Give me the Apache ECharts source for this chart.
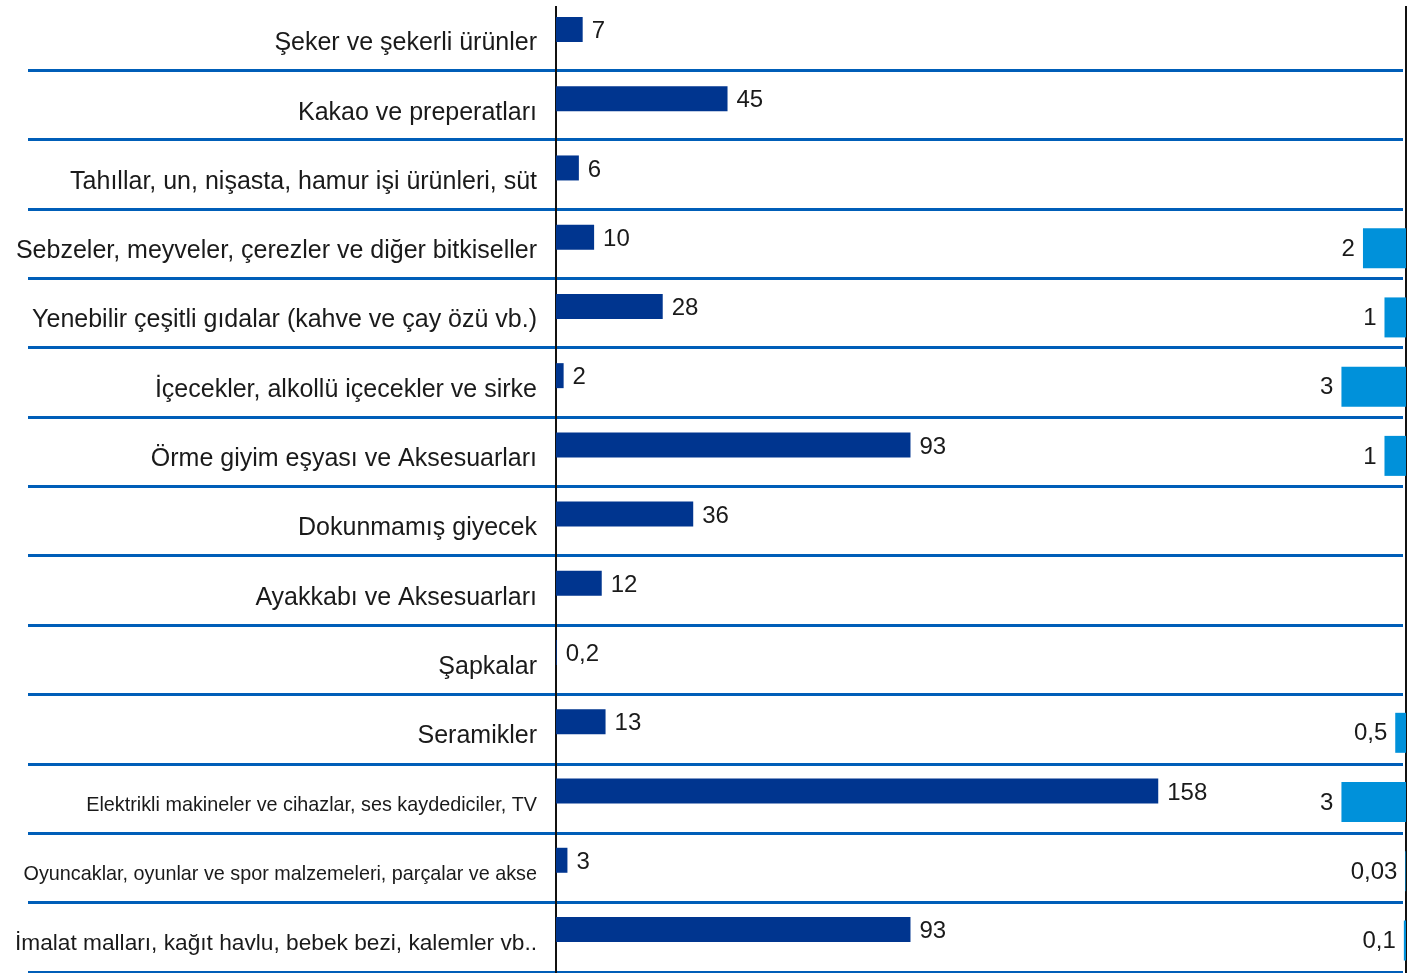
<!DOCTYPE html>
<html>
<head>
<meta charset="utf-8">
<script src="https://cdn.jsdelivr.net/npm/echarts@6/dist/echarts.min.js"></script>
<style>
html,body{margin:0;padding:0;background:#ffffff;}
#chart{width:1416px;height:973px;}
</style>
</head>
<body>
<div id="chart"></div>
<script>
// ---- data ----
const categories = [
  'Şeker ve şekerli ürünler',
  'Kakao ve preperatları',
  'Tahıllar, un, nişasta, hamur işi ürünleri, süt',
  'Sebzeler, meyveler, çerezler ve diğer bitkiseller',
  'Yenebilir çeşitli gıdalar (kahve ve çay özü vb.)',
  'İçecekler, alkollü içecekler ve sirke',
  'Örme giyim eşyası ve Aksesuarları',
  'Dokunmamış giyecek',
  'Ayakkabı ve Aksesuarları',
  'Şapkalar',
  'Seramikler',
  'Elektrikli makineler ve cihazlar, ses kaydediciler, TV',
  'Oyuncaklar, oyunlar ve spor malzemeleri, parçalar ve akse',
  'İmalat malları, kağıt havlu, bebek bezi, kalemler vb..'
];
const seriesAValues = [7, 45, 6, 10, 28, 2, 93, 36, 12, 0.2, 13, 158, 3, 93];
const seriesBValues = [null, null, null, 2, 1, 3, 1, null, null, null, 0.5, 3, 0.03, 0.1];

// ---- styling ----
const FONT = '"Liberation Sans", Arial, sans-serif';
const DARK = '#00358F';
const LIGHT = '#0091DA';
const SEP = '#005EB8';
const fmt = v => String(v).replace('.', ',');
const labelSizeOverrides = {
  'Elektrikli makineler ve cihazlar, ses kaydediciler, TV': 19.8,
  'Oyuncaklar, oyunlar ve spor malzemeleri, parçalar ve akse': 19.8,
  'İmalat malları, kağıt havlu, bebek bezi, kalemler vb..': 22.7
};

const catData = categories.map(c => labelSizeOverrides[c]
  ? { value: c, textStyle: { fontSize: labelSizeOverrides[c] } }
  : c);

const hiddenValueAxis = (gridIndex, extra) => Object.assign({
  type: 'value', gridIndex,
  axisLine: { show: false }, axisTick: { show: false },
  axisLabel: { show: false }, splitLine: { show: false }
}, extra || {});

const hiddenCatAxis = (gridIndex, extra) => Object.assign({
  type: 'category', gridIndex, data: categories, inverse: true, boundaryGap: false,
  axisLine: { show: false }, axisTick: { show: false },
  axisLabel: { show: false }, splitLine: { show: false }
}, extra || {});

const chart = echarts.init(document.getElementById('chart'), null, { renderer: 'canvas' });
chart.setOption({
  animation: false,
  backgroundColor: '#ffffff',
  textStyle: { fontFamily: FONT },
  grid: [
    // 0: dark bars
    { left: 556, width: 850, top: 29.5, height: 900, outerBoundsMode: 'none', containLabel: false },
    // 1: light bars
    { left: 556, width: 850, top: 40.5, height: 900, outerBoundsMode: 'none', containLabel: false },
    // 2: separator lines
    { left: 28, right: 13, top: 70, height: 902, outerBoundsMode: 'none', containLabel: false },
    // 3: vertical frame lines
    { left: 556, width: 850, top: 6, bottom: 0, outerBoundsMode: 'none', containLabel: false },
    // 4: category labels
    { left: 556, width: 850, top: 43.5, height: 900.5, outerBoundsMode: 'none', containLabel: false }
  ],
  xAxis: [
    hiddenValueAxis(0, { min: 0, max: 223 }),
    hiddenValueAxis(1, { min: 0, max: 39.5, inverse: true }),
    hiddenValueAxis(2, { min: 0, max: 1 }),
    hiddenValueAxis(3, { min: 0, max: 1, interval: 1,
      splitLine: { show: true, lineStyle: { color: '#111111', width: 2 } } }),
    hiddenValueAxis(4, { min: 0, max: 1 })
  ],
  yAxis: [
    hiddenCatAxis(0),
    hiddenCatAxis(1),
    hiddenCatAxis(2, {
      splitLine: { show: true, interval: 0, lineStyle: { color: SEP, width: 3 } }
    }),
    hiddenValueAxis(3, { min: 0, max: 1 }),
    hiddenCatAxis(4, {
      data: catData,
      axisLabel: {
        show: true, interval: 0, margin: 19, align: 'right',
        fontFamily: FONT, fontSize: 25, color: '#1a1a1a'
      }
    })
  ],
  series: [
    {
      name: 'Seri A', type: 'bar', xAxisIndex: 0, yAxisIndex: 0,
      data: seriesAValues, barWidth: 25,
      itemStyle: { color: DARK },
      label: {
        show: true, position: 'right', distance: 9, offset: [0, 2],
        fontFamily: FONT, fontSize: 24, color: '#1a1a1a',
        formatter: p => fmt(p.value)
      }
    },
    {
      name: 'Seri B', type: 'bar', xAxisIndex: 1, yAxisIndex: 1,
      data: seriesBValues, barWidth: 40,
      itemStyle: { color: LIGHT },
      label: {
        show: true, position: 'left', distance: 8, offset: [0, 1],
        fontFamily: FONT, fontSize: 24, color: '#1a1a1a',
        formatter: p => fmt(p.value)
      }
    }
  ]
});
</script>
</body>
</html>
